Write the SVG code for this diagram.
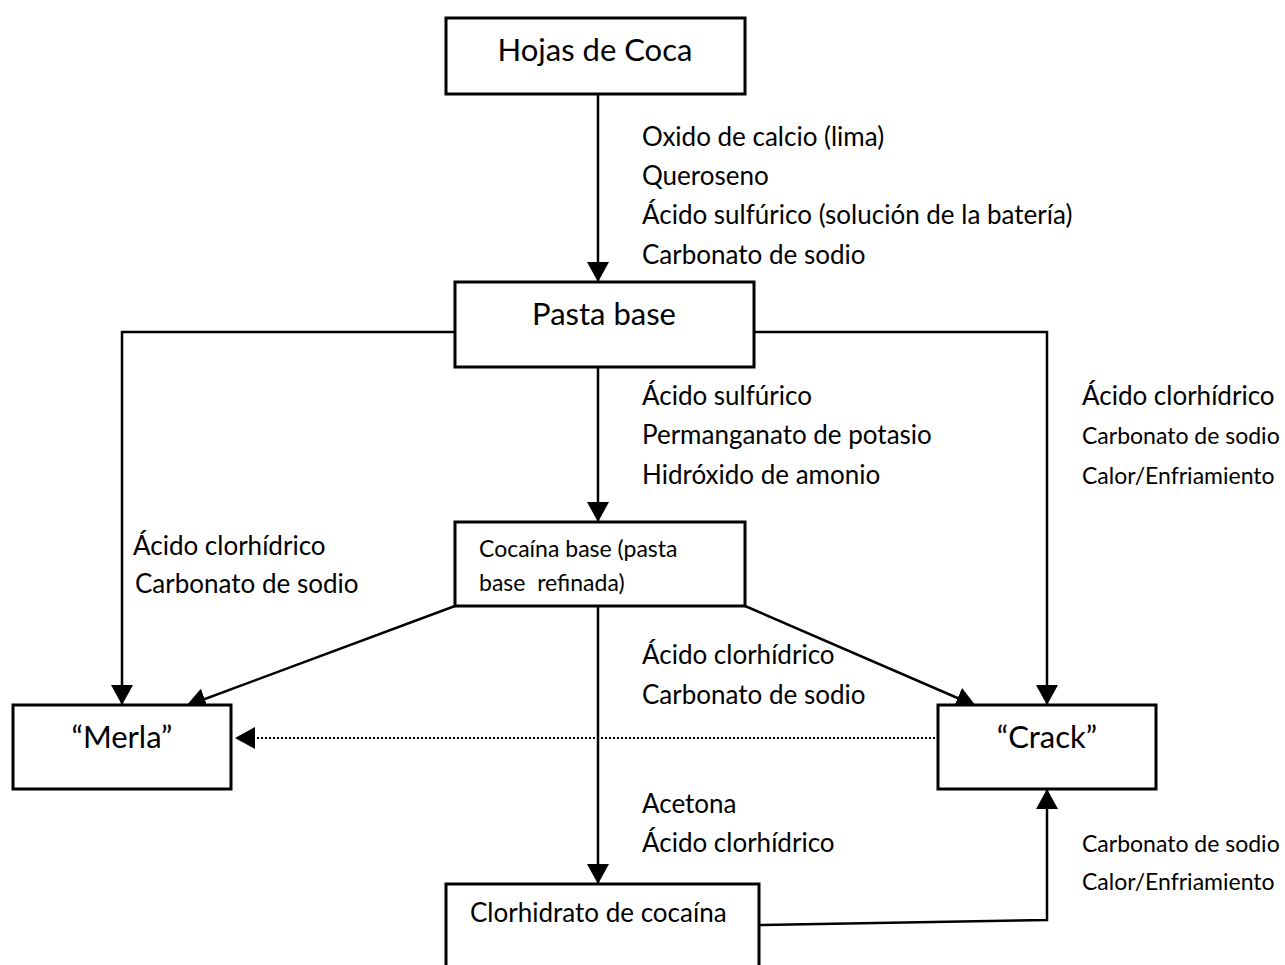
<svg xmlns="http://www.w3.org/2000/svg" width="1285" height="965" viewBox="0 0 1285 965">
<style>
.box{fill:#fff;stroke:#000;stroke-width:3}
.ln{fill:none;stroke:#000;stroke-width:2.5}
.dot{fill:none;stroke:#000;stroke-width:2;stroke-dasharray:2 2}
text{font-family:Lato,"Open Sans","Liberation Sans",sans-serif;fill:#000}
.t{font-size:31px}
.l{font-size:26px}
.s{font-size:23px}
.c{font-size:26px}
</style>
<defs>
<marker id="ah" viewBox="0 0 20 22" refX="20" refY="11" markerWidth="20" markerHeight="22" markerUnits="userSpaceOnUse" orient="auto">
<path d="M0,0 L20,11 L0,22 Z" fill="#000"/>
</marker>
</defs>
<g id="connectors">
<line class="ln" x1="598" y1="94" x2="598" y2="282" marker-end="url(#ah)"/>
<polyline class="ln" points="455,332 122,332 122,705" marker-end="url(#ah)"/>
<polyline class="ln" points="754,332 1047,332 1047,705" marker-end="url(#ah)"/>
<line class="ln" x1="598" y1="367" x2="598" y2="522" marker-end="url(#ah)"/>
<line class="ln" x1="455" y1="606" x2="186" y2="706" marker-end="url(#ah)"/>
<line class="ln" x1="745" y1="606" x2="976" y2="706" marker-end="url(#ah)"/>
<line class="dot" x1="935" y1="738" x2="235" y2="738" marker-end="url(#ah)"/>
<line class="ln" x1="598" y1="606" x2="598" y2="884" marker-end="url(#ah)"/>
<polyline class="ln" points="759,925 1047,920 1047,789" marker-end="url(#ah)"/>
</g>
<g id="labels">
<text class="l" x="642" y="146">Oxido de calcio (lima)</text>
<text class="l" x="642" y="185">Queroseno</text>
<text class="l" x="642" y="224">Ácido sulfúrico (solución de la batería)</text>
<text class="l" x="642" y="264">Carbonato de sodio</text>
<text class="l" x="642" y="405">Ácido sulfúrico</text>
<text class="l" x="642" y="444">Permanganato de potasio</text>
<text class="l" x="642" y="484">Hidróxido de amonio</text>
<text class="l" x="133" y="555">Ácido clorhídrico</text>
<text class="l" x="135" y="593">Carbonato de sodio</text>
<text class="l" x="1082" y="405">Ácido clorhídrico</text>
<text class="s" x="1082" y="444">Carbonato de sodio</text>
<text class="s" x="1082" y="484">Calor/Enfriamiento</text>
<text class="l" x="642" y="664">Ácido clorhídrico</text>
<text class="l" x="642" y="704">Carbonato de sodio</text>
<text class="l" x="642" y="813">Acetona</text>
<text class="l" x="642" y="852">Ácido clorhídrico</text>
<text class="s" x="1082" y="852">Carbonato de sodio</text>
<text class="s" x="1082" y="890">Calor/Enfriamiento</text>
</g>
<g id="hojas">
<rect class="box" x="446" y="18" width="299" height="76"/>
<text class="t" x="595" y="61" text-anchor="middle">Hojas de Coca</text>
</g>
<g id="pasta">
<rect class="box" x="455" y="282" width="299" height="85"/>
<text class="t" x="604" y="325" text-anchor="middle">Pasta base</text>
</g>
<g id="cocaina">
<rect class="box" x="455" y="522" width="290" height="84"/>
<text class="s" x="479" y="557">Cocaína base (pasta</text>
<text class="s" x="479" y="591" xml:space="preserve">base  refinada)</text>
</g>
<g id="merla">
<rect class="box" x="13" y="705" width="218" height="84"/>
<text class="t" x="122" y="748" text-anchor="middle">“Merla”</text>
</g>
<g id="crack">
<rect class="box" x="938" y="705" width="218" height="84"/>
<text class="t" x="1047" y="748" text-anchor="middle">“Crack”</text>
</g>
<g id="clorhidrato">
<rect class="box" x="446" y="884" width="313" height="90"/>
<text class="c" x="470" y="922">Clorhidrato de cocaína</text>
</g>
</svg>
